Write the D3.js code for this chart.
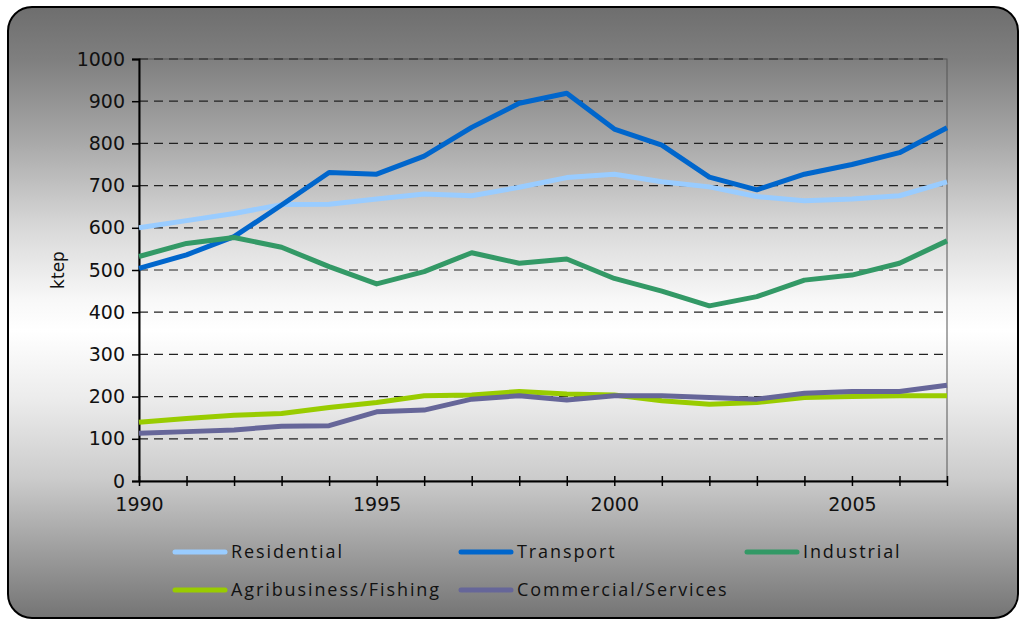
<!DOCTYPE html>
<html lang="en">
<head>
    <meta charset="utf-8" />
    <title>Energy consumption by sector</title>
    <script src="https://cdn.jsdelivr.net/npm/d3@7"></script>
    <style type="text/css">
        body { margin: 0; background: #fff; }
        .tick-label { font-family: "DejaVu Sans", Verdana, sans-serif; font-size: 19px; fill: #111; }
        .legend-label { font-family: "Open Sans", sans-serif; font-size: 18px; letter-spacing: 1.9px; fill: #111; }
    </style>
</head>
<body>
    <svg id="canvas" width="1020" height="621" xmlns="http://www.w3.org/2000/svg"></svg>
    <script type="text/javascript">
        var years = d3.range(1990, 2008);
        var seriesNames = ["Residential", "Transport", "Industrial", "Agribusiness/Fishing", "Commercial/Services"];
        var seriesColors = ["#99ccff", "#0066cc", "#339966", "#99cc00", "#666699"];

        var residential = [600, 617, 634, 655, 656, 668, 680, 676, 696, 719, 727, 709, 697, 674, 664, 668, 676, 709];
        var transport = [504, 536, 579, 654, 731, 727, 770, 838, 895, 919, 834, 796, 720, 690, 727, 750, 778, 837];
        var industrial = [532, 563, 577, 554, 508, 467, 496, 541, 516, 526, 480, 450, 415, 437, 476, 488, 516, 569];
        var agribusiness = [139, 148, 156, 160, 174, 186, 202, 204, 212, 206, 204, 190, 182, 186, 198, 200, 202, 202];
        var commercial = [113, 117, 121, 130, 131, 164, 168, 194, 202, 192, 202, 202, 198, 194, 208, 212, 212, 227];

        var yTicks = [0, 100, 200, 300, 400, 500, 600, 700, 800, 900, 1000];
        var xTickLabels = [1990, 1995, 2000, 2005];

        var allSeries = [residential, transport, industrial, agribusiness, commercial];

        var svg = d3.select("#canvas");

        // background gradient, dark at top and bottom, white in the middle
        var grad = svg.append("defs").append("linearGradient")
            .attr("id", "bg")
            .attr("x1", 0).attr("y1", 0).attr("x2", 0).attr("y2", 1);
        [[0, "#6e6e6e"], [0.09, "#808080"], [0.22, "#a8a8a8"], [0.36, "#d8d8d8"],
         [0.48, "#f8f8f8"], [0.53, "#ffffff"], [0.64, "#ececec"], [0.77, "#cccccc"],
         [0.90, "#9a9a9a"], [1, "#747474"]].forEach(function (s) {
            grad.append("stop").attr("offset", s[0]).attr("stop-color", s[1]);
        });

        svg.append("rect")
            .attr("x", 8).attr("y", 7)
            .attr("width", 1010).attr("height", 611)
            .attr("rx", 24).attr("ry", 24)
            .attr("fill", "url(#bg)")
            .attr("stroke", "#000")
            .attr("stroke-width", 2);

        var x = d3.scaleLinear().domain([1990, 2007]).range([139, 947]);
        var y = d3.scaleLinear().domain([0, 1000]).range([481, 59]);

        // plot border (right and top)
        svg.append("rect")
            .attr("x", x(1990)).attr("y", y(1000))
            .attr("width", x(2007) - x(1990)).attr("height", y(0) - y(1000))
            .attr("fill", "none")
            .attr("stroke", "#555")
            .attr("stroke-width", 1);

        // dashed gridlines
        svg.append("g").selectAll("line")
            .data(yTicks.filter(function (d) { return d > 0; }))
            .enter().append("line")
            .attr("x1", x(1990)).attr("x2", x(2007))
            .attr("y1", function (d) { return y(d); })
            .attr("y2", function (d) { return y(d); })
            .attr("stroke", "#222")
            .attr("stroke-width", 1.2)
            .attr("stroke-dasharray", "9,6");

        // y axis
        var yAxis = svg.append("g")
            .attr("transform", "translate(" + x(1990) + ",0)")
            .call(d3.axisLeft(y).tickValues(yTicks).tickFormat(d3.format("d"))
                .tickSize(7).tickPadding(7));
        yAxis.select(".domain").attr("stroke", "#000").attr("stroke-width", 2);
        yAxis.selectAll(".tick line").attr("stroke", "#000").attr("stroke-width", 1.5);
        yAxis.selectAll(".tick text").attr("class", "tick-label").attr("font-size", null).attr("font-family", null);

        // x axis: a tick every year, labels every 5 years
        var xAxis = svg.append("g")
            .attr("transform", "translate(0," + y(0) + ")")
            .call(d3.axisBottom(x).tickValues(years).tickSizeInner(5).tickSizeOuter(0)
                .tickFormat(function (d) { return xTickLabels.indexOf(d) >= 0 ? d : ""; })
                .tickPadding(12));
        xAxis.select(".domain").attr("stroke", "#000").attr("stroke-width", 2);
        xAxis.selectAll(".tick line").attr("y1", -5).attr("stroke", "#000").attr("stroke-width", 1.5);
        xAxis.selectAll(".tick text").attr("class", "tick-label").attr("font-size", null).attr("font-family", null);

        svg.append("text")
            .attr("class", "tick-label")
            .attr("transform", "translate(64,270) rotate(-90)")
            .attr("text-anchor", "middle")
            .style("font-size", "17px")
            .text("ktep");

        // series lines
        var line = d3.line()
            .x(function (d, i) { return x(years[i]); })
            .y(function (d) { return y(d); });

        svg.append("g").selectAll("path")
            .data(allSeries)
            .enter().append("path")
            .attr("d", line)
            .attr("fill", "none")
            .attr("stroke", function (d, i) { return seriesColors[i]; })
            .attr("stroke-width", 5)
            .attr("stroke-linejoin", "round");

        // legend, three columns
        var legend = svg.append("g").selectAll("g")
            .data(seriesNames)
            .enter().append("g")
            .attr("transform", function (d, i) {
                return "translate(" + (175 + (i % 3) * 286) + "," + (552 + Math.floor(i / 3) * 38) + ")";
            });
        legend.append("line")
            .attr("x1", 0).attr("x2", 50)
            .attr("stroke", function (d, i) { return seriesColors[i]; })
            .attr("stroke-width", 5)
            .attr("stroke-linecap", "round");
        legend.append("text")
            .attr("class", "legend-label")
            .attr("x", 56)
            .attr("dy", "0.35em")
            .text(function (d) { return d; });
    </script>
</body>
</html>
